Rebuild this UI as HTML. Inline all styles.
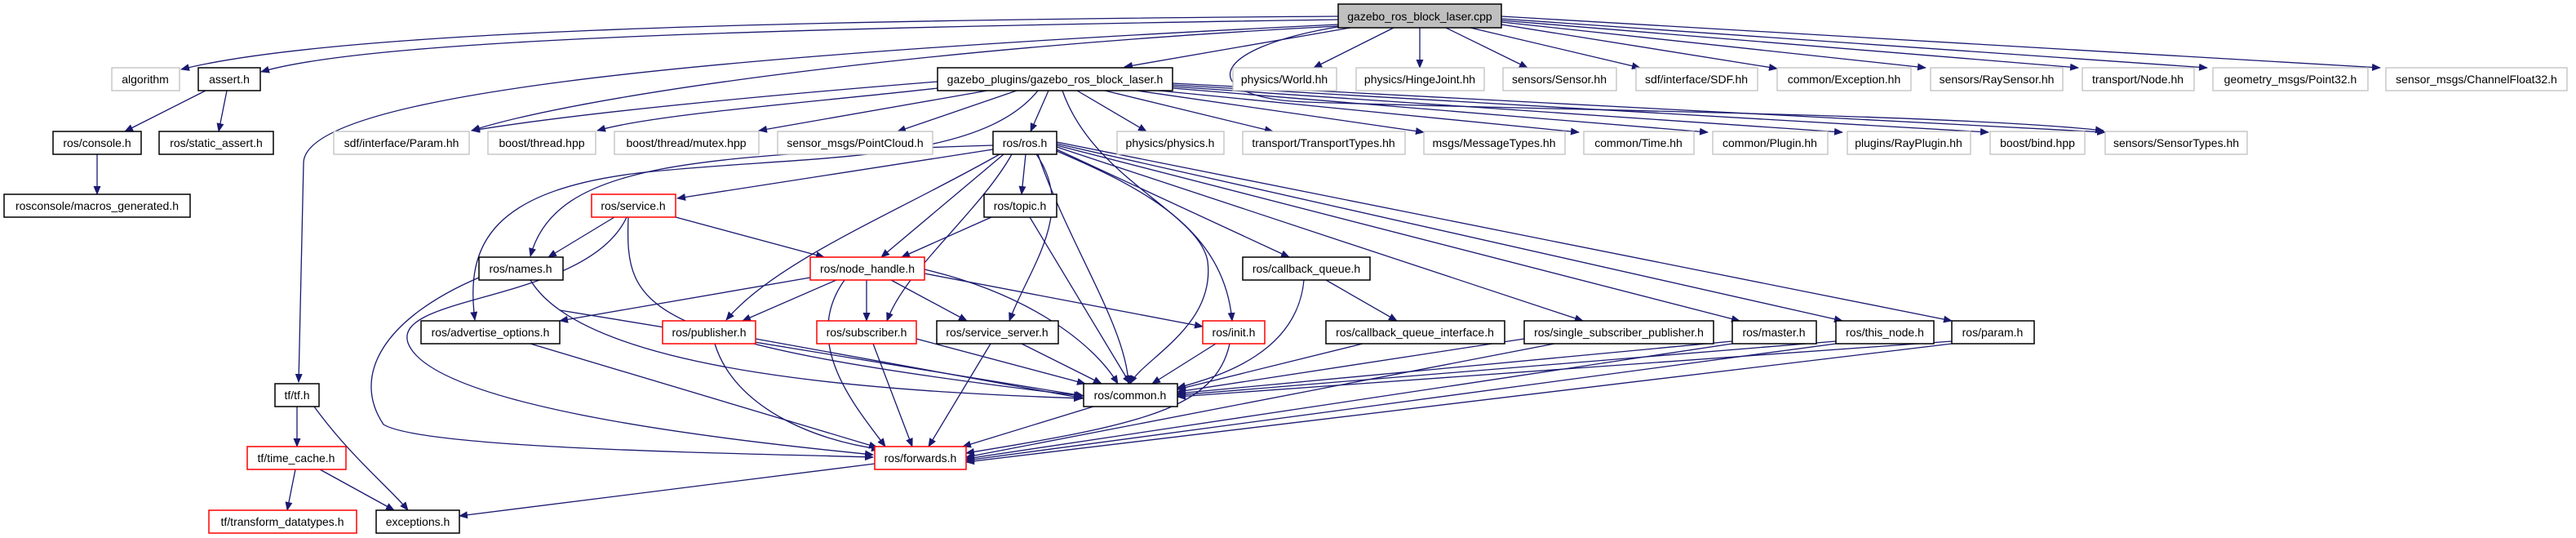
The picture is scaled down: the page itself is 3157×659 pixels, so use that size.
<!DOCTYPE html>
<html><head><meta charset="utf-8"><style>
html,body{margin:0;padding:0;background:#fff}
svg{display:block}
text{font-family:"Liberation Sans",sans-serif;font-size:14px;text-anchor:middle;fill:#000}
.g{fill:#fff;stroke:#bfbfbf;stroke-width:1.3}
.b{fill:#fff;stroke:#000;stroke-width:1.5}
.r{fill:#fff;stroke:#ff0000;stroke-width:1.5}
.e path{fill:none;stroke:#191970;stroke-width:1.3;marker-end:url(#a)}
</style></head><body>
<svg width="3157" height="659" viewBox="0 0 3157 659" xmlns="http://www.w3.org/2000/svg">
<defs><marker id="a" markerWidth="11" markerHeight="9" refX="10" refY="4.5" orient="auto" markerUnits="userSpaceOnUse"><path d="M0,0L11,4.5L0,9z" fill="#191970"/></marker></defs>
<g class="e">
<path d="M1640,20 C900,25 400,40 222,85"/>
<path d="M1640,24 C900,35 450,50 320,88"/>
<path d="M1640,30 C800,70 372,120 372,200 L366,468"/>
<path d="M1655,34 L1378,82"/>
<path d="M1640,32 C1100,60 700,120 578,160"/>
<path d="M1708,34 L1610,83"/>
<path d="M1740,34 L1740,83"/>
<path d="M1772,34 L1872,83"/>
<path d="M1802,34 L2010,83"/>
<path d="M1840,30 L2178,84"/>
<path d="M1840,27 L2360,83"/>
<path d="M1840,25 L2547,83"/>
<path d="M1840,23 L2705,83"/>
<path d="M1840,20 L2917,83"/>
<path d="M1645,32 C1470,60 1470,120 1600,125 C1900,135 2400,140 2578,160"/>
<path d="M1149,100 C900,120 700,140 578,160"/>
<path d="M1149,108 C1000,125 800,140 732,160"/>
<path d="M1210,111 L930,160"/>
<path d="M1246,111 L1100,161"/>
<path d="M1285,111 L1263,161"/>
<path d="M1320,111 L1405,161"/>
<path d="M1354,111 L1560,161"/>
<path d="M1393,111 L1745,162"/>
<path d="M1420,111 L1935,162"/>
<path d="M1437,108 L2093,162"/>
<path d="M1437,106 L2258,162"/>
<path d="M1437,104 L2437,162"/>
<path d="M1437,102 L2580,162"/>
<path d="M1217,178 C850,190 680,200 650,314"/>
<path d="M1272,111 C1200,200 1000,190 800,210 C600,230 570,300 582,392"/>
<path d="M1217,183 L830,243"/>
<path d="M1257,189 L1252,238"/>
<path d="M1230,189 L1080,315"/>
<path d="M1225,189 C1100,260 950,320 890,392"/>
<path d="M1240,189 C1200,260 1110,330 1087,393"/>
<path d="M1270,189 C1320,260 1260,330 1237,393"/>
<path d="M1272,189 C1310,300 1380,400 1383,470"/>
<path d="M1295,185 C1400,230 1500,280 1510,393"/>
<path d="M1295,183 L1580,315"/>
<path d="M1295,180 L1940,393"/>
<path d="M1295,178 L2132,393"/>
<path d="M1295,176 L2258,393"/>
<path d="M1295,174 L2392,393"/>
<path d="M1302,111 C1340,220 1470,260 1480,320 C1490,400 1400,440 1385,470"/>
<path d="M753,266 L672,315"/>
<path d="M828,266 L1010,315"/>
<path d="M770,266 C766,380 780,420 1326,485"/>
<path d="M768,266 C720,370 480,360 500,420 C530,500 900,540 1070,557"/>
<path d="M587,340 C470,390 430,460 470,520 C520,550 900,555 1070,560"/>
<path d="M650,343 C720,460 1100,480 1326,488"/>
<path d="M1215,266 L1105,315"/>
<path d="M1262,266 L1385,470"/>
<path d="M993,340 L686,393"/>
<path d="M1025,343 L910,393"/>
<path d="M1062,343 L1062,393"/>
<path d="M1092,343 L1185,393"/>
<path d="M1133,335 L1474,400"/>
<path d="M1133,330 C1260,360 1340,420 1370,470"/>
<path d="M1035,343 C980,420 1050,500 1085,547"/>
<path d="M1625,343 L1712,393"/>
<path d="M1598,343 C1590,430 1500,460 1443,475"/>
<path d="M686,380 L1328,485"/>
<path d="M650,421 L1075,548"/>
<path d="M926,415 L1328,488"/>
<path d="M876,421 C900,500 1000,540 1078,550"/>
<path d="M1123,415 L1330,470"/>
<path d="M1070,421 L1118,547"/>
<path d="M1252,421 L1350,470"/>
<path d="M1214,421 L1138,547"/>
<path d="M1490,421 L1412,470"/>
<path d="M1507,421 C1490,500 1400,520 1184,555"/>
<path d="M1670,421 L1443,477"/>
<path d="M1868,415 L1443,480"/>
<path d="M1905,421 L1184,560"/>
<path d="M2123,418 L1443,482"/>
<path d="M2123,421 L1184,562"/>
<path d="M2250,418 L1443,484"/>
<path d="M2250,421 L1184,564"/>
<path d="M2392,418 L1443,486"/>
<path d="M2392,421 L1184,566"/>
<path d="M1340,498 L1180,547"/>
<path d="M1072,568 L563,632"/>
<path d="M364,498 L364,547"/>
<path d="M385,498 C430,560 480,600 500,625"/>
<path d="M362,575 L352,625"/>
<path d="M392,575 L483,625"/>
<path d="M252,111 L153,161"/>
<path d="M278,111 L268,161"/>
<path d="M119,189 L119,238"/>
</g>
<!-- row0 -->
<rect x="1640" y="5" width="200" height="29" fill="#bfbfbf" stroke="#000" stroke-width="1.5"/><text x="1740" y="25">gazebo_ros_block_laser.cpp</text>
<!-- row1 -->
<rect class="g" x="137" y="83" width="83" height="28"/><text x="178" y="102">algorithm</text>
<rect class="b" x="243" y="83" width="76" height="28"/><text x="281" y="102">assert.h</text>
<rect class="b" x="1149" y="83" width="288" height="28"/><text x="1293" y="102">gazebo_plugins/gazebo_ros_block_laser.h</text>
<rect class="g" x="1511" y="83" width="127" height="28"/><text x="1574" y="102">physics/World.hh</text>
<rect class="g" x="1662" y="83" width="157" height="28"/><text x="1740" y="102">physics/HingeJoint.hh</text>
<rect class="g" x="1842" y="83" width="139" height="28"/><text x="1911" y="102">sensors/Sensor.hh</text>
<rect class="g" x="2005" y="83" width="149" height="28"/><text x="2079" y="102">sdf/interface/SDF.hh</text>
<rect class="g" x="2178" y="83" width="164" height="28"/><text x="2260" y="102">common/Exception.hh</text>
<rect class="g" x="2366" y="83" width="162" height="28"/><text x="2447" y="102">sensors/RaySensor.hh</text>
<rect class="g" x="2552" y="83" width="137" height="28"/><text x="2620" y="102">transport/Node.hh</text>
<rect class="g" x="2712" y="83" width="190" height="28"/><text x="2807" y="102">geometry_msgs/Point32.h</text>
<rect class="g" x="2924" y="83" width="222" height="28"/><text x="3035" y="102">sensor_msgs/ChannelFloat32.h</text>
<!-- row2 -->
<rect class="b" x="65" y="161" width="108" height="28"/><text x="119" y="180">ros/console.h</text>
<rect class="b" x="195" y="161" width="140" height="28"/><text x="265" y="180">ros/static_assert.h</text>
<rect class="g" x="409" y="161" width="166" height="28"/><text x="492" y="180">sdf/interface/Param.hh</text>
<rect class="g" x="598" y="161" width="132" height="28"/><text x="664" y="180">boost/thread.hpp</text>
<rect class="g" x="753" y="161" width="177" height="28"/><text x="841" y="180">boost/thread/mutex.hpp</text>
<rect class="g" x="953" y="161" width="190" height="28"/><text x="1048" y="180">sensor_msgs/PointCloud.h</text>
<rect class="b" x="1217" y="161" width="78" height="28"/><text x="1256" y="180">ros/ros.h</text>
<rect class="g" x="1369" y="161" width="131" height="28"/><text x="1434" y="180">physics/physics.h</text>
<rect class="g" x="1523" y="161" width="199" height="28"/><text x="1622" y="180">transport/TransportTypes.hh</text>
<rect class="g" x="1745" y="161" width="173" height="28"/><text x="1831" y="180">msgs/MessageTypes.hh</text>
<rect class="g" x="1941" y="161" width="135" height="28"/><text x="2008" y="180">common/Time.hh</text>
<rect class="g" x="2099" y="161" width="141" height="28"/><text x="2169" y="180">common/Plugin.hh</text>
<rect class="g" x="2264" y="161" width="151" height="28"/><text x="2339" y="180">plugins/RayPlugin.hh</text>
<rect class="g" x="2439" y="161" width="116" height="28"/><text x="2497" y="180">boost/bind.hpp</text>
<rect class="g" x="2580" y="161" width="174" height="28"/><text x="2667" y="180">sensors/SensorTypes.hh</text>
<!-- row3 -->
<rect class="b" x="5" y="238" width="228" height="28"/><text x="119" y="257">rosconsole/macros_generated.h</text>
<rect class="r" x="725" y="238" width="103" height="28"/><text x="776" y="257">ros/service.h</text>
<rect class="b" x="1206" y="238" width="89" height="28"/><text x="1250" y="257">ros/topic.h</text>
<!-- row4 -->
<rect class="b" x="587" y="315" width="103" height="28"/><text x="638" y="334">ros/names.h</text>
<rect class="r" x="993" y="315" width="140" height="28"/><text x="1063" y="334">ros/node_handle.h</text>
<rect class="b" x="1523" y="315" width="156" height="28"/><text x="1601" y="334">ros/callback_queue.h</text>
<!-- row5 -->
<rect class="b" x="516" y="393" width="170" height="28"/><text x="601" y="412">ros/advertise_options.h</text>
<rect class="r" x="812" y="393" width="114" height="28"/><text x="869" y="412">ros/publisher.h</text>
<rect class="r" x="1001" y="393" width="122" height="28"/><text x="1062" y="412">ros/subscriber.h</text>
<rect class="b" x="1148" y="393" width="149" height="28"/><text x="1222" y="412">ros/service_server.h</text>
<rect class="r" x="1474" y="393" width="76" height="28"/><text x="1512" y="412">ros/init.h</text>
<rect class="b" x="1625" y="393" width="219" height="28"/><text x="1734" y="412">ros/callback_queue_interface.h</text>
<rect class="b" x="1868" y="393" width="232" height="28"/><text x="1984" y="412">ros/single_subscriber_publisher.h</text>
<rect class="b" x="2123" y="393" width="103" height="28"/><text x="2174" y="412">ros/master.h</text>
<rect class="b" x="2250" y="393" width="120" height="28"/><text x="2310" y="412">ros/this_node.h</text>
<rect class="b" x="2392" y="393" width="101" height="28"/><text x="2442" y="412">ros/param.h</text>
<!-- row6 -->
<rect class="b" x="337" y="470" width="54" height="28"/><text x="364" y="489">tf/tf.h</text>
<rect class="b" x="1328" y="470" width="115" height="28"/><text x="1385" y="489">ros/common.h</text>
<!-- row7 -->
<rect class="r" x="303" y="547" width="121" height="28"/><text x="363" y="566">tf/time_cache.h</text>
<rect class="r" x="1072" y="547" width="112" height="28"/><text x="1128" y="566">ros/forwards.h</text>
<!-- row8 -->
<rect class="r" x="256" y="625" width="181" height="28"/><text x="346" y="644">tf/transform_datatypes.h</text>
<rect class="b" x="461" y="625" width="102" height="28"/><text x="512" y="644">exceptions.h</text>
</svg>
</body></html>
